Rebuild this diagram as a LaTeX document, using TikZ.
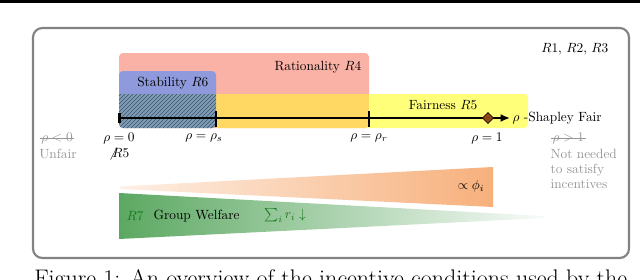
\documentclass[tikz,border=0pt]{standalone}
\usepackage{amssymb}
\usetikzlibrary{arrows.meta,patterns,shapes.geometric}

\definecolor{ratred}{RGB}{250,177,166}
\definecolor{stabblue}{RGB}{142,154,219}
\definecolor{fairyellow}{RGB}{255,255,122}
\definecolor{overlapyellow}{RGB}{255,216,100}
\definecolor{hatchbase}{RGB}{128,156,182}
\definecolor{hatchline}{RGB}{58,84,106}
\definecolor{phiorange}{RGB}{247,176,124}
\definecolor{welfgreen}{RGB}{92,168,98}
\definecolor{rtxtgreen}{RGB}{25,120,30}
\definecolor{diambrown}{RGB}{140,75,20}
\definecolor{boxgrey}{RGB}{130,130,130}
\definecolor{offgrey}{RGB}{150,150,150}

\begin{document}
\begin{tikzpicture}[x=0.75pt,y=-0.75pt,
  region/.style={rounded corners=3pt},
  offtxt/.style={text=offgrey, inner sep=1pt},
  axlbl/.style={inner sep=1pt}]
\useasboundingbox (0,0) rectangle (640,279);

% page rule and frame
\draw[line width=2pt] (0,1.2) -- (640,1.2);
\draw[boxgrey, line width=1.6pt, rounded corners=7pt] (33,28) rectangle (629,258);

% incentive regions
\fill[ratred, region] (119,53) rectangle (369,128);
\fill[fairyellow, region] (216,94) rectangle (528,128);
\begin{scope}
  \clip[region] (119,53) rectangle (369,128);
  \fill[overlapyellow] (216,94) rectangle (369,128);
\end{scope}
\fill[stabblue, region] (119,71) rectangle (216,128);
\begin{scope}
  \clip[region] (119,71) rectangle (216,128);
  \fill[hatchbase] (119,94) rectangle (216,128);
  \fill[pattern=north east lines, pattern color=hatchline] (119,94) rectangle (216,128);
\end{scope}

\node[anchor=east] (rall) at (613,49) {$R1$, $R2$, $R3$};
\node[anchor=east] (ratlbl) at (366,67) {Rationality $R4$};
\node[anchor=east] (stablbl) at (213,83) {Stability $R6$};
\node[] (fairlbl) at (443,105) {Fairness $R5$};

% rho axis
\coordinate (ax0) at (118,118);
\coordinate (axS) at (216,118);
\coordinate (axR) at (369,118);
\coordinate (axEnd) at (510,118);
\draw[line width=1.3pt, {Bar[width=8pt,line width=2pt]}-{Latex[length=7pt,width=6pt]}] (ax0) -- (axEnd);
\draw[line width=1pt] (216,111) -- (216,127);
\draw[line width=1pt] (369,111) -- (369,127);
\node[diamond, draw=black, fill=diambrown, inner sep=0pt, minimum size=8.5pt] (shap) at (488,118) {};
\node[anchor=west, inner sep=1pt] (shaplbl) at (511,118) {$\rho$ -Shapley Fair};

\node[axlbl] (lbl0) at (119,138) {$\rho=0$};
\node[axlbl] (lblS) at (204,138) {$\rho=\rho_s$};
\node[axlbl] (lblR) at (369,138) {$\rho=\rho_r$};
\node[axlbl] (lbl1) at (487,138) {$\rho=1$};
\node[axlbl] (r5no) at (119,154) {$\not{R}5$};

\node[offtxt] (neg) at (57,138) {$\rho<0$};
\draw[offgrey] (neg.west) -- (neg.east);
\node[offtxt] (unfair) at (58,154) {Unfair};
\node[offtxt, anchor=west] (big) at (551,138) {$\rho>1$};
\draw[offgrey] (big.west) -- (big.east);
\node[offtxt, anchor=north west, align=left, font=\fontsize{10}{11}\selectfont] (notneeded) at (549,148) {Not needed\\to satisfy\\incentives};

% wedges
\shade[left color=phiorange!20, right color=phiorange] (120,186.5) -- (493,167) -- (493,207) -- (120,189) -- cycle;
\shade[left color=welfgreen, right color=welfgreen!4] (119,193) -- (545,216) -- (545,218) -- (119,239) -- cycle;
\node[] (phi) at (471,186) {$\propto\phi_i$};
\node[text=rtxtgreen] (r7) at (135,216) {$R7$};
\node[anchor=west] (welfare) at (149,216) {Group Welfare};
\node[text=rtxtgreen] (sumr) at (285,215) {$\sum_i r_i\downarrow$};

% caption (cut by the page edge)
\node[anchor=base west, inner sep=0pt, font=\fontsize{18}{21}\selectfont] (caption) at (34,286) {Figure 1: An overview of the incentive conditions used by the};
\end{tikzpicture}
\end{document}
